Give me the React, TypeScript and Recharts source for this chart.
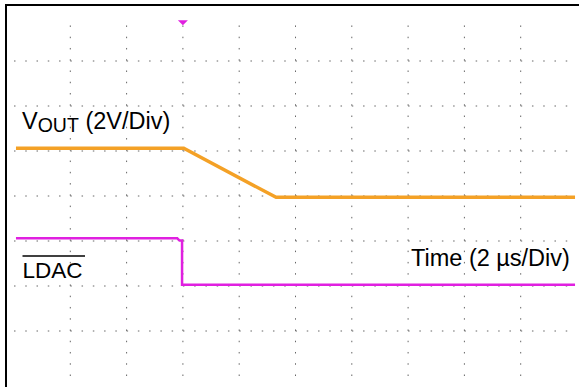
import React from "react";
import {
  LineChart,
  Line,
  XAxis,
  YAxis,
  ReferenceLine,
  ReferenceDot,
} from "recharts";

// time in µs (2 µs/div), levels in screen divisions (8 div tall, centre = 0)
const vOutTime = [-5.93, 0.03, 3.31, 13.93];
const vOutLevel = [1.06, 1.06, -0.03, -0.03];

const ldacTime = [-5.93, -0.2, -0.12, -0.03, -0.03, 13.93];
const ldacLevel = [-0.94, -0.94, -0.99, -0.99, -1.97, -1.97];

const timeTicks = [-4, -2, 0, 2, 4, 6, 8, 10, 12];
const divTicks = [-3, -2, -1, 0, 1, 2, 3];

const triggerTime = 0;

const vOut = vOutTime.map((t, i) => ({ t, v: vOutLevel[i] }));
const ldac = ldacTime.map((t, i) => ({ t, v: ldacLevel[i] }));

const ORANGE = "#F4A126";
const MAGENTA = "#E020E0";
const FONT = "'Liberation Sans', Arial, sans-serif";
const DOTS = "1.5 9.76";

const Trigger = (props: any) => {
  const { cx, cy } = props;
  return (
    <polygon
      points={`${cx - 5},${cy - 2.5} ${cx + 5},${cy - 2.5} ${cx},${cy + 2.5}`}
      fill={MAGENTA}
    />
  );
};

export default function App() {
  return (
    <div style={{ position: "absolute", left: 0, top: 0, width: 579, height: 387, background: "#fff", overflow: "hidden" }}>
      <div
        style={{
          position: "absolute",
          left: 5,
          top: 4,
          width: 574,
          height: 383,
          borderTop: "2px solid #000",
          borderLeft: "2px solid #000",
          boxSizing: "border-box",
        }}
      />
      <div style={{ position: "absolute", left: 0, top: 0 }}>
        <LineChart
          width={579}
          height={387}
          margin={{ top: 16, right: 2, bottom: 11, left: 14 }}
        >
          <XAxis
            type="number"
            dataKey="t"
            domain={[-6, 14]}
            ticks={timeTicks}
            hide
          />
          <YAxis type="number" domain={[-4, 4]} ticks={divTicks} hide />
          {timeTicks.map((t) => (
            <ReferenceLine
              key={`x${t}`}
              x={t}
              stroke="#666"
              strokeWidth={1}
              strokeDasharray={DOTS}
            />
          ))}
          {divTicks.map((d) => (
            <ReferenceLine
              key={`y${d}`}
              y={d}
              stroke="#666"
              strokeWidth={1}
              strokeDasharray={DOTS}
            />
          ))}
          <Line
            data={vOut}
            dataKey="v"
            type="linear"
            stroke={ORANGE}
            strokeWidth={3.5}
            dot={false}
            isAnimationActive={false}
          />
          <Line
            data={ldac}
            dataKey="v"
            type="linear"
            stroke={MAGENTA}
            strokeWidth={2.5}
            dot={false}
            isAnimationActive={false}
          />
          <ReferenceDot
            x={triggerTime}
            y={3.85}
            ifOverflow="visible"
            shape={Trigger}
          />
        </LineChart>
      </div>
      <svg
        width={579}
        height={387}
        style={{ position: "absolute", left: 0, top: 0, pointerEvents: "none" }}
      >
        <text x={22} y={129} fontFamily={FONT} fontSize={23.5} fill="#000">
          V
          <tspan fontSize={19.5} dy={3}>
            OUT
          </tspan>
          <tspan dy={-3}> (2V/Div)</tspan>
        </text>
        <text x={411} y={266} fontFamily={FONT} fontSize={23.5} fill="#000">
          Time (2 µs/Div)
        </text>
        <text x={22.5} y={278} fontFamily={FONT} fontSize={22.5} fill="#000">
          LDAC
        </text>
        <line x1={22.5} x2={85} y1={256} y2={256} stroke="#000" strokeWidth={1.5} />
      </svg>
    </div>
  );
}
